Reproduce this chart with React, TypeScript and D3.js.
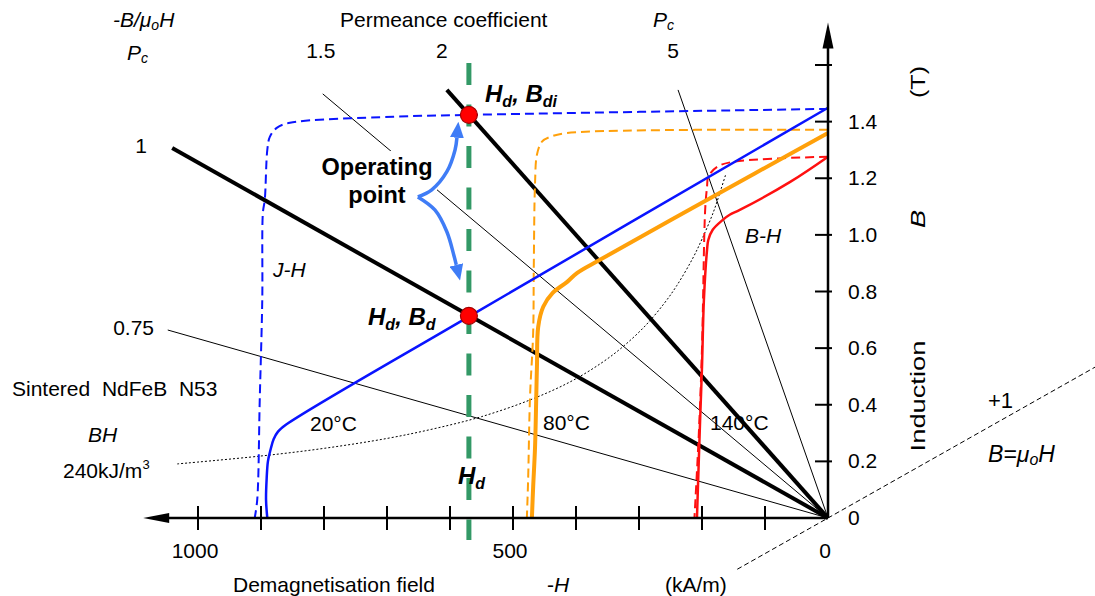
import React, { useEffect } from 'react';
import * as d3 from 'd3';

const W = 1095;
const HT = 596;

// axes: -H in kA/m (grows to the left), B in tesla
const hTicks = [0, 100, 200, 300, 400, 500, 600, 700, 800, 900, 1000];
const hLabels = [0, 500, 1000];
const bTicks = [0.2, 0.4, 0.6, 0.8, 1.0, 1.2, 1.4, 1.6];
const bLabels = [0, 0.2, 0.4, 0.6, 0.8, 1.0, 1.2, 1.4];

// permeance lines from the origin, end points
const pcNames = ['1', '2', '1.5', '5', '0.75'];
const pcEndH = [1041, 605, 802, 238, 1048];
const pcEndB = [1.307, 1.512, 1.498, 1.512, 0.664];
const pcHeavy = [true, true, false, false, false];

// 20°C
const jh20H = [0, 568, 690, 854, 875, 886, 890, 894, 897, 898, 902, 906, 910];
const jh20B = [1.445, 1.424, 1.417, 1.396, 1.378, 1.346, 1.3, 1.124, 1.078, 0.77, 0.417, 0.064, 0];
const bh20H = [0, 568, 860, 873, 880, 885, 889, 891, 892, 890];
const bh20B = [1.449, 0.714, 0.33, 0.305, 0.278, 0.24, 0.2, 0.14, 0.064, 0];

// 80°C
const jh80H = [0, 414, 441, 454, 462, 465, 467, 468, 473, 476, 478];
const jh80B = [1.371, 1.36, 1.346, 1.329, 1.283, 1.184, 0.887, 0.654, 0.428, 0.134, 0];
const bh80H = [0, 203, 362, 398, 414, 437, 452, 460, 462, 465, 468, 470];
const bh80B = [1.36, 1.11, 0.912, 0.866, 0.834, 0.795, 0.746, 0.675, 0.534, 0.251, 0.11, 0];

// 140°C
const jh140H = [0, 151, 176, 190, 192, 195, 200, 205, 212];
const jh140B = [1.276, 1.258, 1.24, 1.205, 1.17, 1.088, 0.6, 0.3, 0];
const bh140H = [0, 60, 140, 156, 167, 183, 190, 192, 197, 200, 203, 208];
const bh140B = [1.276, 1.187, 1.088, 1.071, 1.053, 1.018, 0.982, 0.947, 0.77, 0.534, 0.346, 0];

// (BH) contour, dotted
const bhcH = [1033, 900, 800, 700, 624, 550, 473, 410, 360, 325, 290, 260, 240, 215, 200, 182, 170, 162];
const bhcB = [0.191, 0.219, 0.246, 0.281, 0.316, 0.358, 0.417, 0.48, 0.547, 0.606, 0.679, 0.758, 0.821, 0.916, 0.985, 1.08, 1.16, 1.216];

// B = mu0 H line (through origin)
const muH = [144, -424];
const muB = [-0.181, 0.533];

// operating point
const hd = 570;
const opB = [1.424, 0.714];
const hdLineB = [-0.078, 1.607];

// curved arrows from "Operating point"
const arrUpH = [651, 629, 605, 592, 589];
const arrUpB = [1.134, 1.159, 1.223, 1.3, 1.343];
const arrDnH = [651, 624, 605, 594, 590];
const arrDnB = [1.134, 1.088, 1.011, 0.929, 0.894];

const axisEndH = 1087;
const axisEndB = 1.75;

const FONT = '"Liberation Sans", Arial, sans-serif';

function zip(a: number[], b: number[]): [number, number][] {
  return a.map((v, i) => [v, b[i]] as [number, number]);
}

export default function App() {
  useEffect(() => {
    document.body.style.margin = '0';
  }, []);

  const x = d3.scaleLinear().domain([0, 1000]).range([828, 198]);
  const y = d3.scaleLinear().domain([0, 1.6]).range([518, 65]);

  const line = d3.line<[number, number]>().x(d => x(d[0])).y(d => y(d[1]));
  const smooth = d3.line<[number, number]>()
    .x(d => x(d[0])).y(d => y(d[1]))
    .curve(d3.curveCatmullRom.alpha(0.5));

  const x0 = x(0), y0 = y(0);
  const xEnd = x(axisEndH), yEnd = y(axisEndB);

  const blue = '#0a14ff';
  const orange = '#ffa00a';
  const red = '#ff1010';
  const arrowBlue = '#3f7cf6';

  const txt = { fontFamily: FONT, fontSize: 21, fill: '#000' } as const;
  const bolder = { ...txt, fontSize: 24, fontWeight: 'bold', fontStyle: 'italic' } as const;

  return (
    <svg width={W} height={HT} style={{ display: 'block' }} fontFamily={FONT}>
      <defs>
        <marker id="ah" viewBox="0 0 16 14" refX="0" refY="7" markerWidth="16" markerHeight="14"
          markerUnits="userSpaceOnUse" orient="auto">
          <path d="M0,0 L16,7 L0,14 Z" fill={arrowBlue} />
        </marker>
      </defs>
      <rect width={W} height={HT} fill="#fff" />

      {/* labels under the lines */}
      <text {...txt} x={310} y={431}>20°C</text>
      <text {...txt} x={543} y={430}>80°C</text>
      <text {...txt} x={710} y={430}>140°C</text>

      {/* B = mu0 H */}
      <path d={line(zip(muH, muB)) || ''} stroke="#000" strokeWidth={1} strokeDasharray="5 3" fill="none" />

      {/* BH contour */}
      <path d={smooth(zip(bhcH, bhcB)) || ''} stroke="#000" strokeWidth={1} strokeDasharray="2 2" fill="none" />

      {/* permeance lines */}
      {pcNames.map((n, i) => (
        <path key={n} d={line([[0, 0], [pcEndH[i], pcEndB[i]]]) || ''} stroke="#000"
          strokeWidth={pcHeavy[i] ? 4 : 1} fill="none" />
      ))}

      {/* demagnetisation curves */}
      <path d={smooth(zip(jh20H, jh20B)) || ''} stroke={blue} strokeWidth={2} strokeDasharray="9 5" fill="none" />
      <path d={smooth(zip(jh80H, jh80B)) || ''} stroke={orange} strokeWidth={2} strokeDasharray="9 5" fill="none" />
      <path d={smooth(zip(jh140H, jh140B)) || ''} stroke={red} strokeWidth={2} strokeDasharray="9 5" fill="none" />
      <path d={smooth(zip(bh20H, bh20B)) || ''} stroke={blue} strokeWidth={2.5} fill="none" />
      <path d={smooth(zip(bh80H, bh80B)) || ''} stroke={orange} strokeWidth={4} fill="none" />
      <path d={smooth(zip(bh140H, bh140B)) || ''} stroke={red} strokeWidth={2.5} fill="none" />

      {/* Hd line */}
      <line x1={x(hd)} x2={x(hd)} y1={y(hdLineB[1])} y2={y(hdLineB[0])} stroke="#339966"
        strokeWidth={5} strokeDasharray="22 19.5" />

      {/* axes */}
      <line x1={x0} x2={xEnd + 24} y1={y0} y2={y0} stroke="#000" strokeWidth={2.5} />
      <path d={`M${xEnd},${y0} L${xEnd + 26},${y0 - 5} L${xEnd + 26},${y0 + 5} Z`} fill="#000" />
      <line x1={x0} x2={x0} y1={y0} y2={yEnd + 24} stroke="#000" strokeWidth={2.5} />
      <path d={`M${x0},${yEnd} L${x0 - 5.5},${yEnd + 26} L${x0 + 5.5},${yEnd + 26} Z`} fill="#000" />
      {hTicks.filter(t => t > 0).map(t => (
        <line key={t} x1={x(t)} x2={x(t)} y1={y0 - 12} y2={y0 + 12} stroke="#000" strokeWidth={2} />
      ))}
      {bTicks.map(t => (
        <line key={t} x1={x0 - 13} x2={x0 + 4} y1={y(t)} y2={y(t)} stroke="#000" strokeWidth={2} />
      ))}
      {hLabels.map(t => (
        <text key={t} {...txt} x={x(t) - 3} y={558} textAnchor="middle">{t}</text>
      ))}
      {bLabels.map(t => (
        <text key={t} {...txt} x={848} y={y(t) + 7}>{t === 0 ? '0' : t.toFixed(1)}</text>
      ))}

      {/* axis titles */}
      <text {...txt} x={233} y={592}>Demagnetisation field</text>
      <text {...txt} x={547} y={592}>-<tspan fontStyle="italic">H</tspan></text>
      <text {...txt} x={665} y={592}>(kA/m)</text>
      <text {...txt} transform="translate(925,396) rotate(-90) scale(1.3,1)" textAnchor="middle">Induction</text>
      <text {...txt} transform="translate(925,219) rotate(-90) scale(1.3,1)" textAnchor="middle" fontStyle="italic">B</text>
      <text {...txt} transform="translate(925,82) rotate(-90) scale(1.2,1)" textAnchor="middle">(T)</text>

      {/* top: permeance coefficient */}
      <text {...txt} x={113} y={27} fontStyle="italic">-B/μ<tspan fontSize={14} dy={3}>o</tspan><tspan dy={-3}>H</tspan></text>
      <text {...txt} x={127} y={60} fontStyle="italic">P<tspan fontSize={14} dy={3}>c</tspan></text>
      <text {...txt} x={340} y={27}>Permeance coefficient</text>
      <text {...txt} x={653} y={27} fontStyle="italic">P<tspan fontSize={14} dy={3}>c</tspan></text>
      <text {...txt} x={x(pcEndH[2]) - 2} y={58} textAnchor="middle">{pcNames[2]}</text>
      <text {...txt} x={x(pcEndH[1]) - 5} y={58} textAnchor="middle">{pcNames[1]}</text>
      <text {...txt} x={x(pcEndH[3]) - 5} y={58} textAnchor="middle">{pcNames[3]}</text>
      <text {...txt} x={147} y={153} textAnchor="end">{pcNames[0]}</text>
      <text {...txt} x={154} y={335} textAnchor="end">{pcNames[4]}</text>

      {/* material labels */}
      <text {...txt} x={12} y={396} style={{ whiteSpace: 'pre' }}>Sintered  NdFeB  N53</text>
      <text {...txt} x={88} y={442} fontStyle="italic">BH</text>
      <text {...txt} x={63} y={478}>240kJ/m<tspan fontSize={13} dy={-9}>3</tspan></text>
      <text {...txt} x={273} y={277} fontStyle="italic">J-H</text>
      <text {...txt} x={745} y={243} fontStyle="italic">B-H</text>
      <text {...txt} x={988} y={408} fontSize={22}>+1</text>
      <text {...txt} x={988} y={462} fontSize={23} fontStyle="italic">B=μ<tspan fontSize={16} dy={3}>o</tspan><tspan dy={-3}>H</tspan></text>

      {/* operating point annotation */}
      <rect x={316} y={151} width={121} height={60} fill="#fff" />
      <text {...txt} fontSize={23.5} fontWeight="bold" x={377} y={175} textAnchor="middle">Operating</text>
      <text {...txt} fontSize={23.5} fontWeight="bold" x={377} y={203} textAnchor="middle">point</text>
      <path d={smooth(zip(arrUpH, arrUpB)) || ''} stroke={arrowBlue} strokeWidth={3.5} fill="none" markerEnd="url(#ah)" />
      <path d={smooth(zip(arrDnH, arrDnB)) || ''} stroke={arrowBlue} strokeWidth={3.5} fill="none" markerEnd="url(#ah)" />

      {opB.map(b => (
        <circle key={b} cx={x(hd)} cy={y(b)} r={8.5} fill="#ff0000" stroke="#a00000" strokeWidth={1.2} />
      ))}

      <text {...bolder} x={485} y={102}>
        H<tspan fontSize={16} dy={5}>d</tspan><tspan dy={-5}>, B</tspan><tspan fontSize={16} dy={5}>di</tspan>
      </text>
      <text {...bolder} x={368} y={325}>
        H<tspan fontSize={16} dy={5}>d</tspan><tspan dy={-5}>, B</tspan><tspan fontSize={16} dy={5}>d</tspan>
      </text>
      <text {...bolder} x={458} y={484}>
        H<tspan fontSize={16} dy={5}>d</tspan>
      </text>
    </svg>
  );
}
